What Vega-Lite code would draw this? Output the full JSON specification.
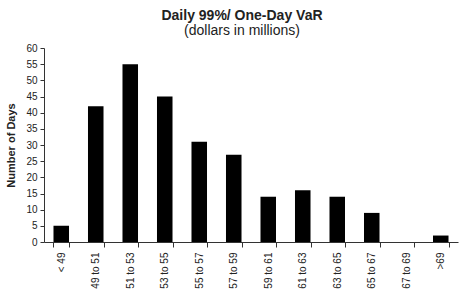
{
  "$schema": "https://vega.github.io/schema/vega-lite/v6.json",
  "width": 414,
  "height": 194,
  "autosize": {"type": "none"},
  "padding": {"left": 44, "top": 48, "right": 10, "bottom": 50},
  "background": "white",
  "title": {
    "text": "Daily 99%/ One-Day VaR",
    "subtitle": "(dollars in millions)",
    "font": "Liberation Sans",
    "fontSize": 14,
    "fontWeight": "bold",
    "color": "#222",
    "subtitleFont": "Liberation Sans",
    "subtitleFontSize": 14,
    "subtitleColor": "#222",
    "subtitlePadding": 1,
    "anchor": "middle",
    "dx": -9,
    "offset": 5
  },
  "data": {
    "values": [
      {"range": "< 49", "days": 5},
      {"range": "49 to 51", "days": 42},
      {"range": "51 to 53", "days": 55},
      {"range": "53 to 55", "days": 45},
      {"range": "55 to 57", "days": 31},
      {"range": "57 to 59", "days": 27},
      {"range": "59 to 61", "days": 14},
      {"range": "61 to 63", "days": 16},
      {"range": "63 to 65", "days": 14},
      {"range": "65 to 67", "days": 9},
      {"range": "67 to 69", "days": 0},
      {"range": ">69", "days": 2}
    ]
  },
  "mark": {"type": "bar", "color": "black"},
  "encoding": {
    "x": {
      "field": "range",
      "type": "nominal",
      "sort": null,
      "scale": {"paddingInner": 0.55, "paddingOuter": 0.275},
      "axis": {
        "title": null,
        "labelAngle": -90,
        "labelFont": "Liberation Sans",
        "labelFontSize": 10,
        "labelColor": "#222",
        "labelPadding": 5,
        "tickBand": "extent",
        "tickSize": 5,
        "tickColor": "#333",
        "domainColor": "#333",
        "grid": false
      }
    },
    "y": {
      "field": "days",
      "type": "quantitative",
      "scale": {"domain": [0, 60]},
      "axis": {
        "title": "Number of Days",
        "titleFont": "Liberation Sans",
        "titleFontSize": 11,
        "titleFontWeight": "bold",
        "titleColor": "#222",
        "titlePadding": 9,
        "values": [0, 5, 10, 15, 20, 25, 30, 35, 40, 45, 50, 55, 60],
        "labelFont": "Liberation Sans",
        "labelFontSize": 10,
        "labelColor": "#222",
        "labelPadding": 3,
        "tickSize": 4,
        "tickColor": "#333",
        "domainColor": "#333",
        "grid": false
      }
    }
  },
  "config": {"view": {"stroke": null}}
}
